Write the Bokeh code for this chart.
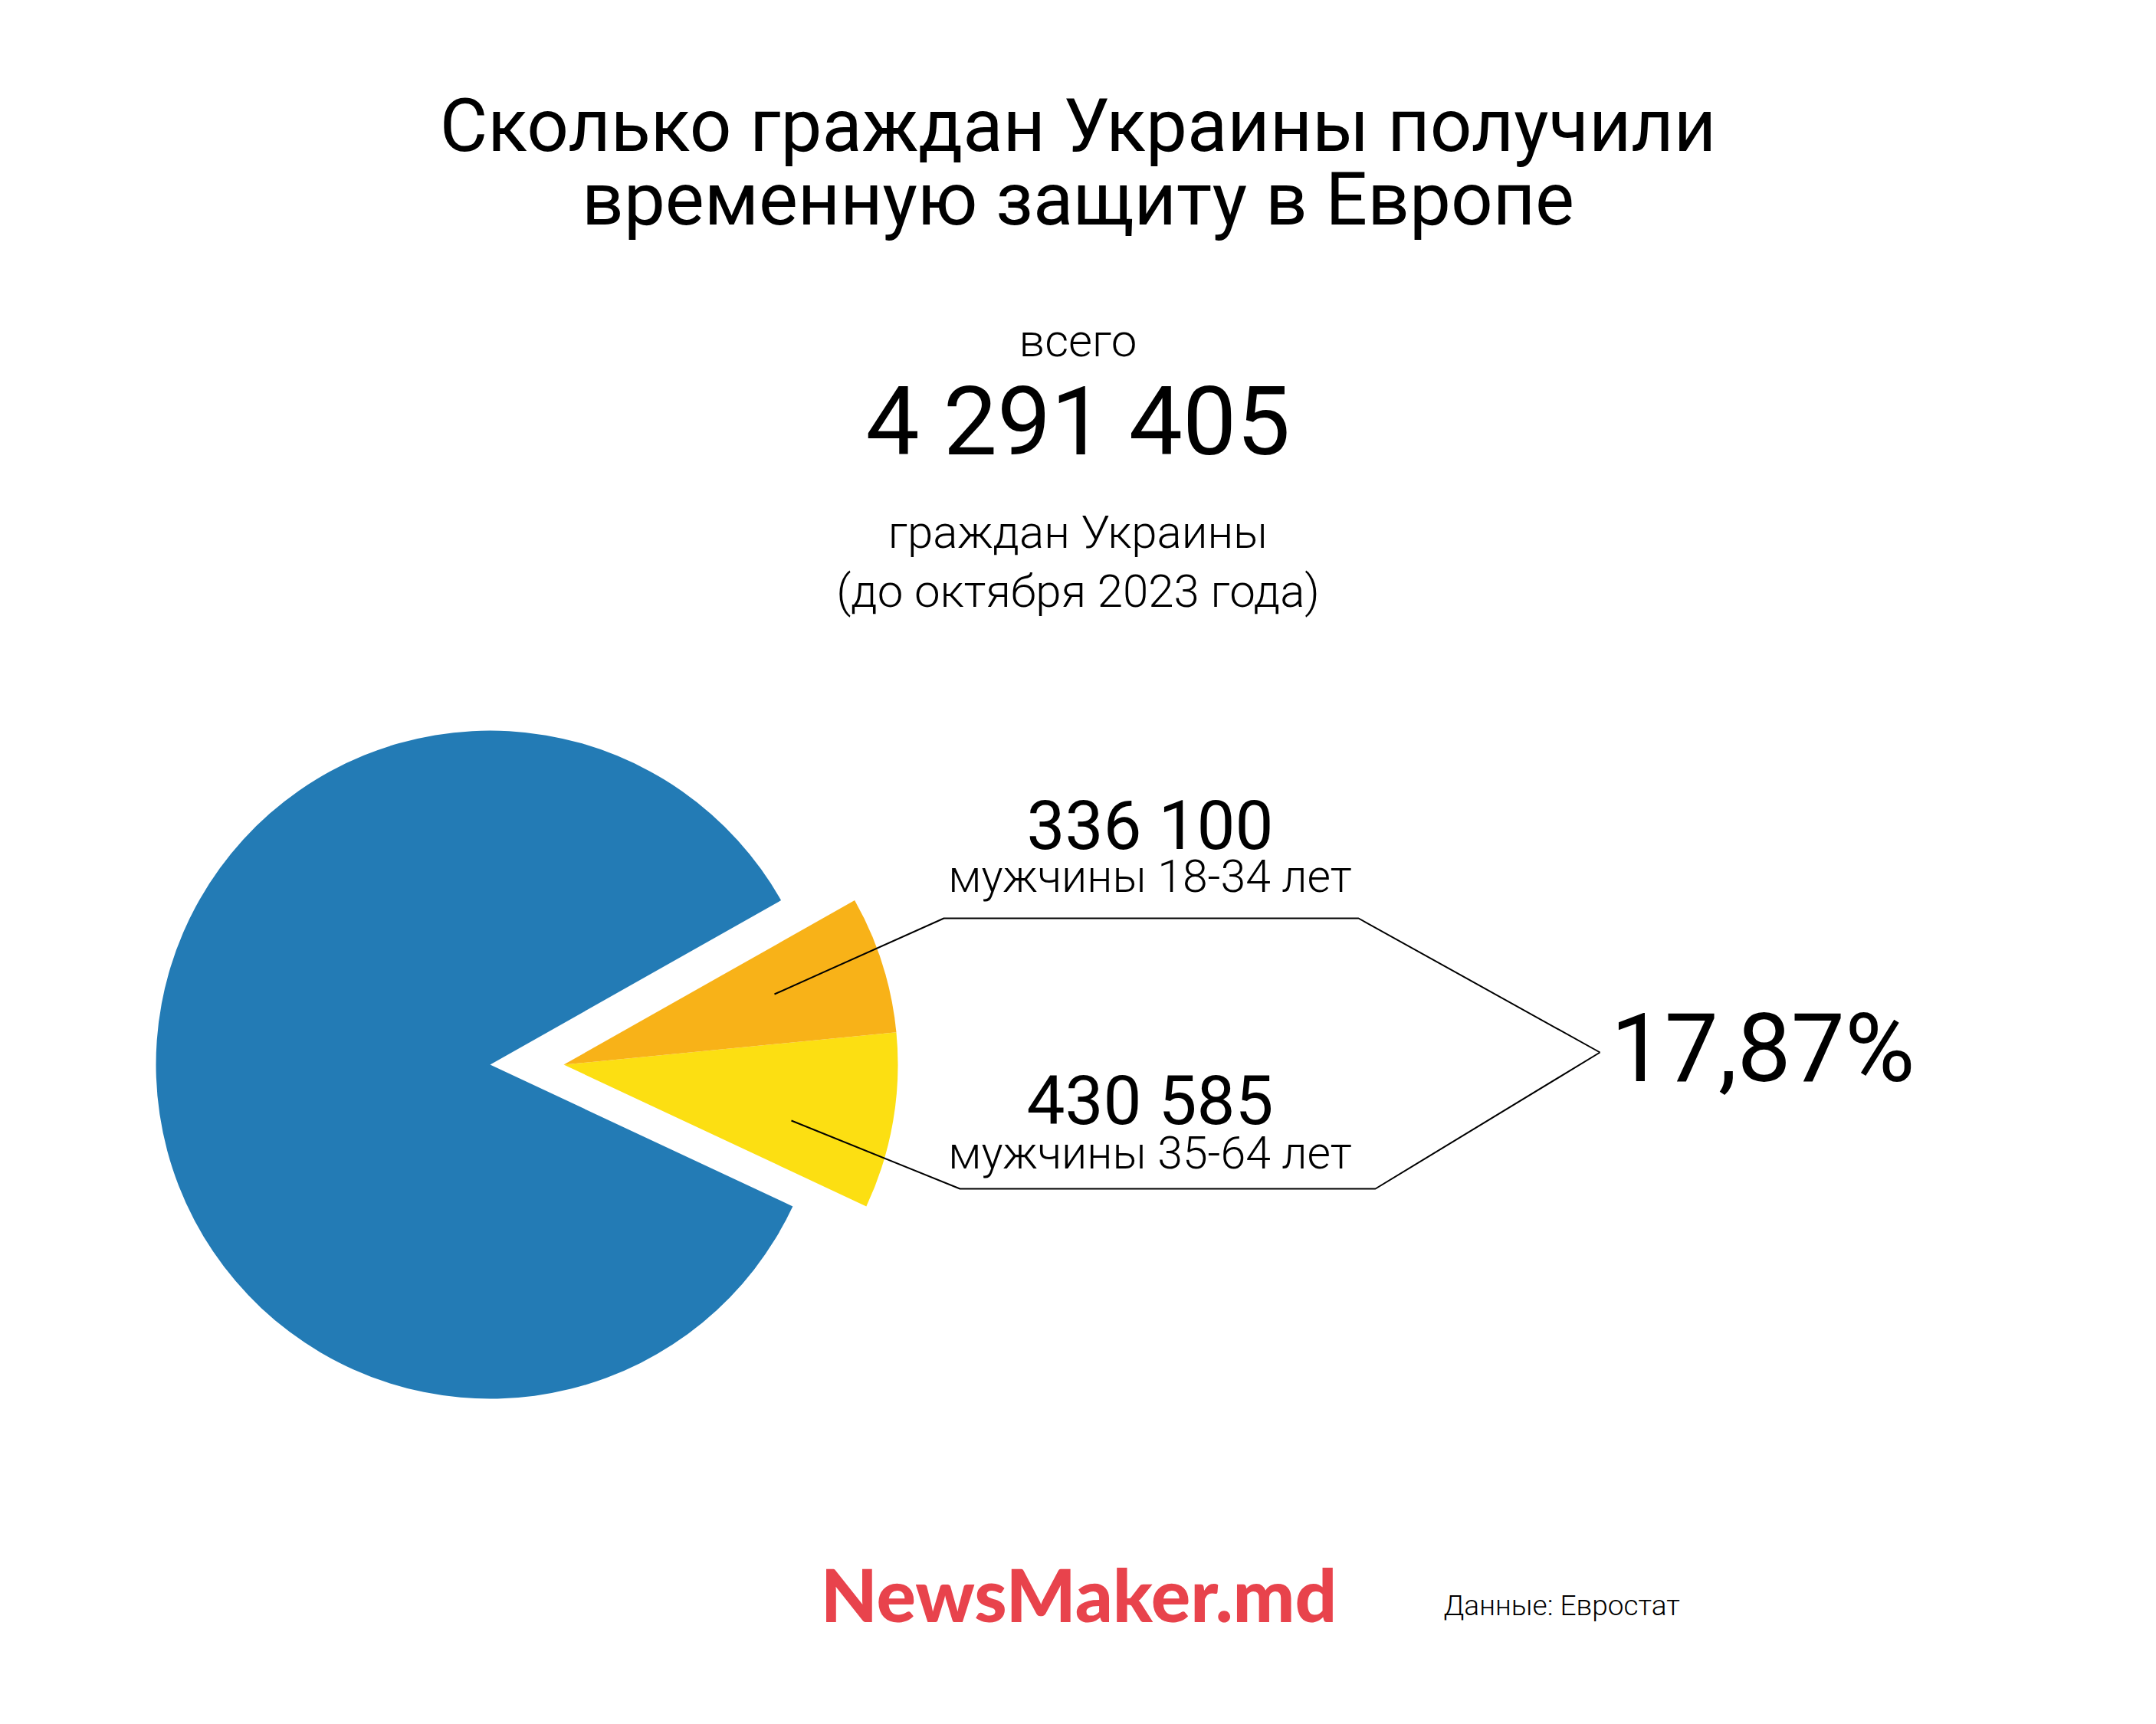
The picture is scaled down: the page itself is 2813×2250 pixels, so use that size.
import math
from bokeh.plotting import figure
from bokeh.models import Range1d, ColumnDataSource
from bokeh.core.properties import value
from bokeh.embed import file_html
from bokeh.resources import INLINE

# ---------------- data ----------------
title_lines = ["Сколько граждан Украины получили", "временную защиту в Европе"]
total_caption = "всего"
total_value = 4291405
total_notes = ["граждан Украины", "(до октября 2023 года)"]

group_labels = ["мужчины 18-34 лет", "мужчины 35-64 лет"]
group_values = [336100, 430585]

# slices as drawn in the pie (counter-clockwise order, starting at the lower cut)
slice_names = ["мужчины 35-64 лет", "мужчины 18-34 лет", "все граждане Украины"]
slice_values = [430585, 336100, 4291405]
slice_colors = ["#fcdf12", "#f8b218", "#237bb5"]
slice_exploded = [True, True, False]

logo_text = "NewsMaker.md"
source_text = "Данные: Евростат"

# ---------------- helpers ----------------
def fmt(v):
    return f"{v:,}".replace(",", " ")

share = sum(group_values) / total_value * 100
share_text = f"{share:.2f}".replace(".", ",") + "%"

PAGE_H = 2250
def Y(y):  # reference pixel row -> data y
    return PAGE_H - y

W, H = 2797, 2234
p = figure(width=W, height=H, x_range=Range1d(0, W), y_range=Range1d(PAGE_H - H, PAGE_H),
           output_backend="svg", toolbar_location=None, min_border=0,
           background_fill_color="white", border_fill_color="white")
p.axis.visible = False
p.grid.visible = False
p.outline_line_color = None

REG = value("Roboto")
LIGHT = value("Roboto Light")
CX = 1406

def txt(x, y, s, size, font=REG, align="center", color="#000000", style="normal"):
    p.text(x=[x], y=[Y(y)], text=[s], text_font=font, text_font_size=f"{size}px",
           text_align=align, text_baseline="alphabetic", text_color=color,
           text_font_style=style)

# title
txt(CX, 163, title_lines[0], 96)
txt(CX, 259, title_lines[1], 96)

# total block
txt(CX, 444, total_caption, 60, LIGHT)
txt(CX, 550, fmt(total_value), 125)
txt(CX, 694, total_notes[0], 60, LIGHT)
txt(CX, 771, total_notes[1], 60, LIGHT)

# ---------------- pie ----------------
pcx, pcy, R = 639, 1389, 436
explode = 96
start = math.radians(-25.1)
tot = sum(slice_values)
starts, ends, xs = [], [], []
a = start
for v, ex in zip(slice_values, slice_exploded):
    span = v / tot * 2 * math.pi
    starts.append(a)
    ends.append(a + span)
    xs.append(pcx + (explode if ex else 0))
    a += span
src = ColumnDataSource(dict(x=xs, y=[Y(pcy)] * len(xs), s=starts, e=ends, c=slice_colors))
p.wedge(x="x", y="y", radius=R, start_angle="s", end_angle="e", direction="anticlock",
        fill_color="c", line_color=None, source=src)

# connectors
p.line(x=[1010, 1231, 1772, 2087], y=[Y(1297), Y(1198), Y(1198), Y(1373)],
       line_color="black", line_width=2)
p.line(x=[1032, 1252, 1794, 2087], y=[Y(1462), Y(1551), Y(1551), Y(1373)],
       line_color="black", line_width=2)

# group labels
LX = 1500
txt(LX, 1077, fmt(group_values[0]), 89)
txt(LX, 1143, group_labels[0], 59, LIGHT)
txt(LX, 1436, fmt(group_values[1]), 89)
txt(LX, 1504, group_labels[1], 59, LIGHT)

# share
txt(2101, 1368, share_text, 125, align="left")

# footer
txt(1407, 2079, logo_text, 96, value("Lato Black, Lato"), color="#e8434c", style="bold")
txt(1883, 2095, source_text, 37, LIGHT, align="left")

open("out.html", "w").write(file_html(p, INLINE))
